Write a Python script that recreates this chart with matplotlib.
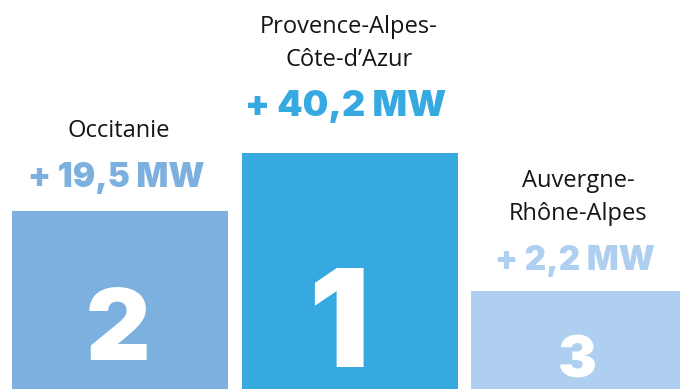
import matplotlib.pyplot as plt

# Podium des régions : puissance ajoutée (MW)
regions = [["Occitanie"], ["Provence-Alpes-", "Côte-d’Azur"], ["Auvergne-", "Rhône-Alpes"]]
gains_mw = [19.5, 40.2, 2.2]
ranks = [2, 1, 3]

# mise en page du podium (en pixels)
bar_centers = [120, 350, 579]
bar_width = 216
podium_heights = [178, 236, 98]
bar_colors = ['#7BB0DF', '#36A9E0', '#AECFEF']
label_sizes = [24, 26, 24]
label_gaps = [24, 37, 21]
rank_sizes = [72, 97, 42]
rank_baselines = [29, 22, 12]
rank_shift = [-2, -11, -2]

W, H = 680, 389
fig = plt.figure(figsize=(W / 100, H / 100), dpi=100)
ax = fig.add_axes([0, 0, 1, 1])
ax.set_xlim(0, W)
ax.set_ylim(0, H)
ax.axis('off')

ax.bar(bar_centers, podium_heights, width=bar_width, color=bar_colors, align='center')

bold_font = ['Inter', 'DejaVu Sans']
for i in range(3):
    x = bar_centers[i]
    label_y = podium_heights[i] + label_gaps[i]

    # valeur au-dessus de la marche
    label = ("+ %.1f" % gains_mw[i]).replace('.', ',') + " MW"
    ax.text(x - 4, label_y, label, ha='center', va='baseline', color=bar_colors[i],
            fontsize=label_sizes[i], fontweight=900, family=bold_font)

    # nom de la région (une ligne par texte)
    for j, line in enumerate(reversed(regions[i])):
        ax.text(x - 1, label_y + 50 + j * 33, line, ha='center', va='baseline', color='#151515',
                fontsize=17, family=['Open Sans', 'DejaVu Sans'])

    # rang dans la marche
    ax.text(x + rank_shift[i], rank_baselines[i], str(ranks[i]), ha='center', va='baseline',
            color='white', fontsize=rank_sizes[i], fontweight=900, family=bold_font)

fig.savefig('out.png', dpi=100)
